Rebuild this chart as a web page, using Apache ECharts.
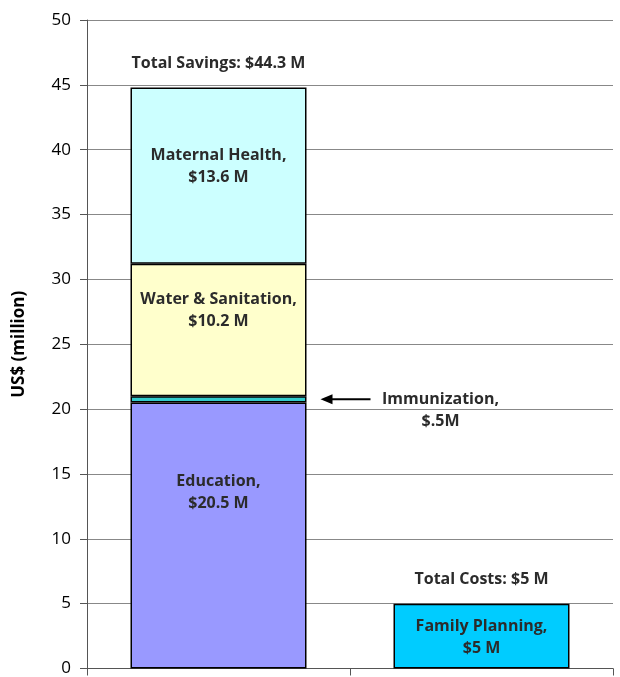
<!DOCTYPE html>
<html>
<head>
<meta charset="utf-8">
<script src="https://cdn.jsdelivr.net/npm/echarts@6/dist/echarts.min.js"></script>
<style>
  html, body { margin: 0; padding: 0; background: #fff; }
  #chart { width: 620px; height: 677px; }
</style>
</head>
<body>
<div id="chart"></div>
<script>
// data
var categories = ['Savings', 'Costs'];
var yTicks = [0, 5, 10, 15, 20, 25, 30, 35, 40, 45, 50];
var education = [20.5, '-'];
var immunization = [0.5, '-'];
var waterSanitation = [10.2, '-'];
var maternalHealth = [13.6, '-'];
var familyPlanning = ['-', 5];
var totals = [44.8, 5];
var totalLabels = ['Total Savings: $44.3 M', 'Total Costs: $5 M'];

var font = '"Open Sans", "DejaVu Sans", sans-serif';
var labelColor = '#2b2b2b';
var labelSize = 16;
var barW = 176;

var myChart = echarts.init(document.getElementById('chart'));

function inLabel(text, offY) {
  return {
    show: true,
    position: 'inside',
    offset: [0, offY],
    formatter: text,
    fontFamily: font,
    fontWeight: 'bold',
    fontSize: labelSize,
    lineHeight: 22,
    color: labelColor,
    align: 'center'
  };
}

function stackBar(name, data, color, label) {
  return {
    name: name,
    type: 'bar',
    stack: 'total',
    barWidth: barW,
    data: data,
    itemStyle: { color: color, borderColor: '#000', borderWidth: 1.5 },
    label: label
  };
}

var option = {
  animation: false,
  grid: { left: 87, right: 7, top: 20, bottom: 7 },
  xAxis: {
    type: 'category',
    data: categories,
    boundaryGap: true,
    axisLine: { lineStyle: { color: '#555', width: 1 } },
    axisTick: { show: true, length: 7, lineStyle: { color: '#555' } },
    axisLabel: { show: false }
  },
  yAxis: {
    type: 'value',
    min: 0,
    max: 50,
    interval: 5,
    name: 'US$ (million)',
    nameLocation: 'middle',
    nameGap: 59,
    nameTextStyle: { fontFamily: font, fontWeight: 'bold', fontSize: 17, color: '#000' },
    axisLine: { show: true, lineStyle: { color: '#555', width: 1 } },
    axisTick: { show: true, length: 7, lineStyle: { color: '#555' } },
    axisLabel: {
      fontFamily: font, fontSize: 17, color: '#000', margin: 16,
      formatter: function (v) { return yTicks.indexOf(v) >= 0 ? String(v) : ''; }
    },
    splitLine: { show: true, lineStyle: { color: '#888', width: 1 } }
  },
  series: [
    stackBar('Education', education, '#9999FF', inLabel('Education,\n$20.5 M', -43)),
    stackBar('Immunization', immunization, '#33CCCC', {
      show: true,
      position: 'right',
      distance: 134,
      offset: [0, 11],
      formatter: 'Immunization,\n$.5M',
      fontFamily: font,
      fontWeight: 'bold',
      fontSize: labelSize,
      lineHeight: 22,
      color: labelColor,
      align: 'center'
    }),
    stackBar('Water & Sanitation', waterSanitation, '#FFFFCC', inLabel('Water & Sanitation,\n$10.2 M', -20)),
    stackBar('Maternal Health', maternalHealth, '#CCFFFF', inLabel('Maternal Health,\n$13.6 M', -9)),
    stackBar('Family Planning', familyPlanning, '#00CCFF', inLabel('Family Planning,\n$5 M', 1)),
    {
      name: 'Totals',
      type: 'scatter',
      symbolSize: 0,
      silent: true,
      data: totals,
      itemStyle: { opacity: 1 },
      label: {
        show: true,
        position: 'top',
        distance: 16,
        opacity: 1,
        formatter: function (p) { return totalLabels[p.dataIndex]; },
        fontFamily: font,
        fontWeight: 'bold',
        fontSize: labelSize,
        color: labelColor
      }
    }
  ]
};

myChart.setOption(option);

// arrow pointing at the immunization slice
var mid = education[0] + immunization[0] / 2;
var p = myChart.convertToPixel({ seriesIndex: 0 }, [0, mid]);
var x0 = p[0] + barW / 2 + 14;
var x1 = x0 + 50;
myChart.setOption({
  graphic: [
    { type: 'line', shape: { x1: x0 + 8, y1: p[1], x2: x1, y2: p[1] }, style: { stroke: '#000', lineWidth: 2 } },
    { type: 'polygon', shape: { points: [[x0, p[1]], [x0 + 12, p[1] - 5], [x0 + 12, p[1] + 5]] }, style: { fill: '#000' } }
  ]
});
</script>
</body>
</html>
